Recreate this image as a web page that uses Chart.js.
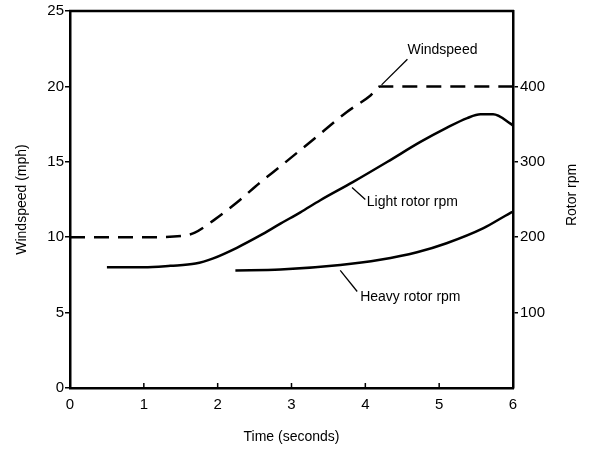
<!DOCTYPE html>
<html>
<head>
<meta charset="utf-8">
<script src="https://cdn.jsdelivr.net/npm/chart.js@4.4.1/dist/chart.umd.min.js"></script>
<style>
  html, body { margin: 0; padding: 0; background: #fff; }
  #wrap { width: 590px; height: 450px; position: relative; }
</style>
</head>
<body>
<div id="wrap"><canvas id="chart"></canvas></div>
<script>
// windspeed (mph) vs time (s)
const windTime  = [0, 1.0, 1.53, 1.69, 1.94, 2.26, 2.57, 2.85, 3.3, 3.75, 4.07, 4.2, 5.0, 6.0];
const windSpeed = [10, 10, 10.1, 10.3, 11.1, 12.3, 13.6, 14.7, 16.5, 18.3, 19.4, 20, 20, 20];

// light rotor (rpm)
const lightTime = [0.5, 1.0, 1.36, 1.7, 1.94, 2.26, 2.57, 2.85, 3.12, 3.39, 3.83, 4.3, 4.74, 5.1, 5.38, 5.56, 5.73, 5.96, 6.0];
const lightRpm  = [160, 160, 162, 165, 172, 186, 202, 218, 233, 249, 273, 300, 326, 345, 358, 363, 363, 351, 348];

// heavy rotor (rpm)
const heavyTime = [2.24, 2.85, 3.66, 4.2, 4.7, 5.1, 5.6, 5.96, 6.0];
const heavyRpm  = [156, 157, 163, 170, 180, 192, 212, 232, 234];

const timeTicks = [0, 1, 2, 3, 4, 5, 6];
const speedTicks = [0, 5, 10, 15, 20, 25];
const rpmTicks = [100, 200, 300, 400];

const FONT = '"Liberation Sans", Arial, sans-serif';

const pts = (xs, ys) => xs.map((x, i) => ({ x: x, y: ys[i] }));

// extra drawing: top frame line, inward x ticks, right title, callout labels
const extras = {
  id: 'extras',
  afterDraw(chart) {
    const { ctx, chartArea: a, scales } = chart;
    const x = scales.x, y = scales.y;
    ctx.save();
    ctx.strokeStyle = '#000';
    ctx.fillStyle = '#000';
    ctx.lineWidth = 2.5;
    ctx.beginPath();
    ctx.moveTo(a.left - 1, a.top);
    ctx.lineTo(a.right + 1, a.top);
    ctx.stroke();

    ctx.lineWidth = 1.5;
    timeTicks.slice(1, -1).forEach(t => {
      const px = x.getPixelForValue(t);
      ctx.beginPath();
      ctx.moveTo(px, a.bottom);
      ctx.lineTo(px, a.bottom - 5);
      ctx.stroke();
    });

    // right axis title, reading bottom to top
    ctx.font = '14px ' + FONT;
    ctx.textAlign = 'center';
    ctx.textBaseline = 'middle';
    ctx.save();
    ctx.translate(572, 195);
    ctx.rotate(-Math.PI / 2);
    ctx.fillText('Rotor rpm', 0, 0);
    ctx.restore();

    // callouts
    const notes = [
      { text: 'Windspeed',        tx: 4.57, ty: 22.4, l: [4.57, 21.8, 4.22, 20.1] },
      { text: 'Light rotor rpm',  tx: 4.02, ty: 12.3, l: [3.82, 13.3, 4.0, 12.5] },
      { text: 'Heavy rotor rpm',  tx: 3.93, ty: 6.0,  l: [3.66, 7.8, 3.89, 6.4] }
    ];
    ctx.textAlign = 'left';
    ctx.lineWidth = 1.3;
    notes.forEach(n => {
      ctx.fillText(n.text, x.getPixelForValue(n.tx), y.getPixelForValue(n.ty));
      ctx.beginPath();
      ctx.moveTo(x.getPixelForValue(n.l[0]), y.getPixelForValue(n.l[1]));
      ctx.lineTo(x.getPixelForValue(n.l[2]), y.getPixelForValue(n.l[3]));
      ctx.stroke();
    });
    ctx.restore();
  }
};

new Chart(document.getElementById('chart'), {
  type: 'line',
  data: {
    datasets: [
      {
        label: 'Windspeed',
        data: pts(windTime, windSpeed),
        yAxisID: 'y',
        borderColor: '#000',
        borderWidth: 2.5,
        borderDash: [15, 9],
        pointRadius: 0,
        cubicInterpolationMode: 'monotone'
      },
      {
        label: 'Light rotor rpm',
        data: pts(lightTime, lightRpm),
        yAxisID: 'y2',
        borderColor: '#000',
        borderWidth: 2.5,
        pointRadius: 0,
        cubicInterpolationMode: 'monotone'
      },
      {
        label: 'Heavy rotor rpm',
        data: pts(heavyTime, heavyRpm),
        yAxisID: 'y2',
        borderColor: '#000',
        borderWidth: 2.5,
        pointRadius: 0,
        cubicInterpolationMode: 'monotone'
      }
    ]
  },
  options: {
    responsive: true,
    maintainAspectRatio: false,
    animation: false,
    layout: { padding: { top: 11, left: 0, right: 0, bottom: 0 } },
    plugins: {
      legend: { display: false },
      tooltip: { enabled: false }
    },
    scales: {
      x: {
        type: 'linear',
        min: 0,
        max: 6,
        afterFit: s => { s.height = 62; },
        afterBuildTicks: s => { s.ticks = timeTicks.map(v => ({ value: v })); },
        grid: { display: false, drawTicks: false },
        border: { display: true, color: '#000', width: 2.5 },
        ticks: { color: '#000', font: { family: FONT, size: 15 }, padding: 8 },
        title: {
          display: true,
          text: 'Time (seconds)',
          color: '#000',
          font: { family: FONT, size: 14 },
          padding: { top: 10 }
        }
      },
      y: {
        position: 'left',
        min: 0,
        max: 25,
        afterFit: s => { s.width = 70; },
        afterBuildTicks: s => { s.ticks = speedTicks.map(v => ({ value: v })); },
        grid: { drawOnChartArea: false, drawTicks: true, tickLength: 5, color: '#000', lineWidth: 1.5 },
        border: { display: true, color: '#000', width: 2.5 },
        ticks: { color: '#000', font: { family: FONT, size: 15 }, padding: 1 },
        title: {
          display: true,
          text: 'Windspeed (mph)',
          color: '#000',
          font: { family: FONT, size: 14 },
          padding: { top: 14, bottom: 4 }
        }
      },
      y2: {
        position: 'right',
        min: 0,
        max: 500,
        afterFit: s => { s.width = 77; },
        afterBuildTicks: s => { s.ticks = rpmTicks.map(v => ({ value: v })); },
        grid: { drawOnChartArea: false, drawTicks: true, tickLength: 5, color: '#000', lineWidth: 1.5 },
        border: { display: true, color: '#000', width: 2.5 },
        ticks: { color: '#000', font: { family: FONT, size: 15 }, padding: 2 }
      }
    }
  },
  plugins: [extras]
});
</script>
</body>
</html>
